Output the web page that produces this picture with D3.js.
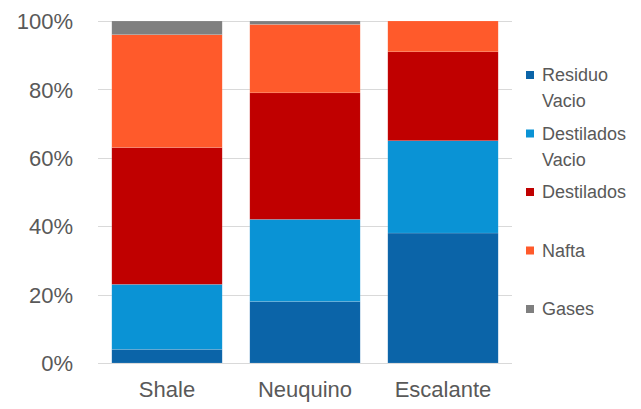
<!DOCTYPE html>
<html>
<head>
<meta charset="utf-8">
<script src="https://cdn.jsdelivr.net/npm/d3@7/dist/d3.min.js"></script>
<style>
  html, body { margin: 0; padding: 0; background: #fff; }
  svg { display: block; font-family: "Liberation Sans", Arial, sans-serif; }
</style>
</head>
<body>
<svg id="chart" width="641" height="409"></svg>
<script>
// Crude composition by basin (% of total)
const categories = ["Shale", "Neuquino", "Escalante"];
const seriesNames = ["Residuo Vacio", "Destilados Vacio", "Destilados", "Nafta", "Gases"];
const residuoVacio    = [4, 18, 38];
const destiladosVacio = [19, 24, 27];
const destilados      = [40, 37, 26];
const nafta           = [33, 20, 9];
const gases           = [4, 1, 0];
const yTicks = [0, 20, 40, 60, 80, 100];
const colors = ["#0B64A8", "#0A93D5", "#C00000", "#FF5A2B", "#7F7F7F"];

const seriesValues = [residuoVacio, destiladosVacio, destilados, nafta, gases];
const rows = categories.map((c, i) => {
  const r = { category: c };
  seriesNames.forEach((s, k) => { r[s] = seriesValues[k][i]; });
  return r;
});

const svg = d3.select("#chart");
const margin = { left: 98, right: 129, top: 21, bottom: 46 };
const W = 641, H = 409;

const x = d3.scaleBand()
  .domain(categories)
  .range([margin.left, W - margin.right])
  .paddingInner(0.2)
  .paddingOuter(0.1);

const y = d3.scaleLinear()
  .domain([0, 100])
  .range([H - margin.bottom, margin.top]);

// gridlines
svg.append("g")
  .selectAll("line")
  .data(yTicks)
  .join("line")
  .attr("x1", margin.left)
  .attr("x2", W - margin.right)
  .attr("y1", d => Math.round(y(d)) + 0.5)
  .attr("y2", d => Math.round(y(d)) + 0.5)
  .attr("stroke", "#D9D9D9")
  .attr("stroke-width", 1);

// y axis labels
const yAxis = d3.axisLeft(y).tickValues(yTicks).tickFormat(d => d + "%").tickSize(0).tickPadding(0);
const gy = svg.append("g").attr("transform", `translate(${margin.left - 25},0)`).call(yAxis);
gy.select(".domain").remove();
gy.selectAll("text")
  .attr("fill", "#595959")
  .attr("font-size", 22)
  .attr("font-family", "Liberation Sans, Arial, sans-serif")
  .attr("dy", "0.35em");

// stacked bars
const stack = d3.stack().keys(seriesNames);
const layers = stack(rows);

svg.append("g")
  .selectAll("g")
  .data(layers)
  .join("g")
  .attr("fill", (d, i) => colors[i])
  .selectAll("rect")
  .data(d => d)
  .join("rect")
  .attr("x", d => x(d.data.category))
  .attr("width", x.bandwidth())
  .attr("y", d => y(d[1]))
  .attr("height", d => Math.max(0, y(d[0]) - y(d[1])))
  .attr("stroke", "rgba(255,255,255,0.25)")
  .attr("stroke-width", 0.5);

// x axis labels
const xAxis = d3.axisBottom(x).tickSize(0).tickPadding(0);
const gx = svg.append("g").attr("transform", `translate(0,${H - margin.bottom})`).call(xAxis);
gx.select(".domain").remove();
gx.selectAll("text")
  .attr("fill", "#595959")
  .attr("font-size", 22)
  .attr("font-family", "Liberation Sans, Arial, sans-serif")
  .attr("dy", "1.55em");

// legend
const legendLines = [["Residuo", "Vacio"], ["Destilados", "Vacio"], ["Destilados"], ["Nafta"], ["Gases"]];
const legend = svg.append("g").attr("transform", "translate(526,0)");
const entryY = d3.scalePoint().domain(seriesNames).range([75, 309]);
const items = legend.selectAll("g")
  .data(seriesNames)
  .join("g")
  .attr("transform", d => `translate(0,${entryY(d)})`);
items.append("rect")
  .attr("x", 0).attr("y", -4)
  .attr("width", 8).attr("height", 8)
  .attr("fill", (d, i) => colors[i]);
items.each(function (d, i) {
  const t = d3.select(this).append("text")
    .attr("x", 16)
    .attr("fill", "#595959")
    .attr("font-size", 18);
  legendLines[i].forEach((ln, j) => {
    t.append("tspan").attr("x", 16).attr("y", j * 26).attr("dy", "0.35em").text(ln);
  });
});
</script>
</body>
</html>
